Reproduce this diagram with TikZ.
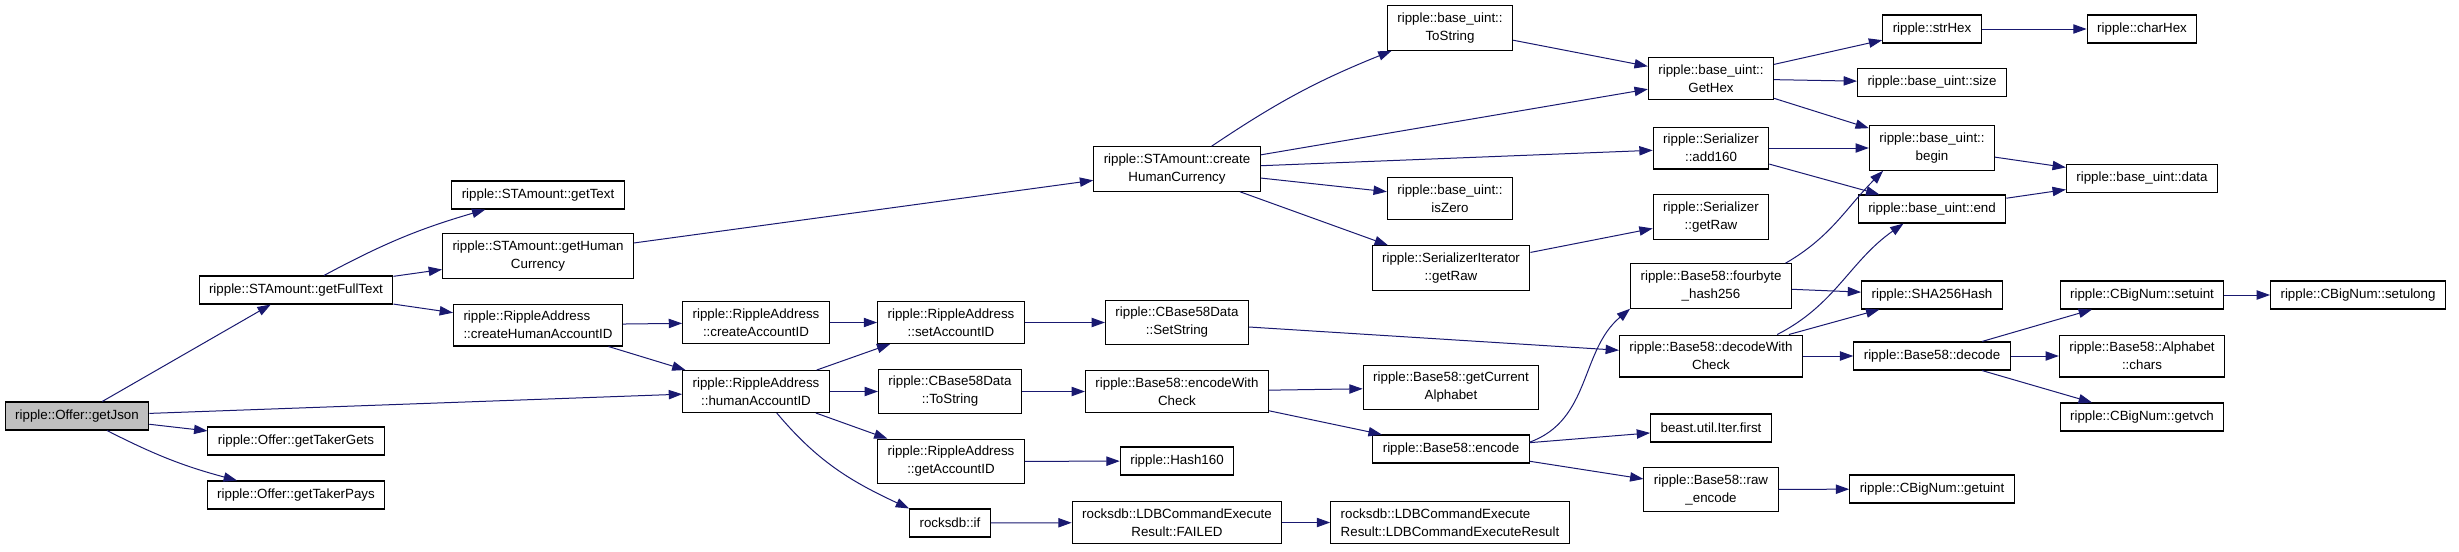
\documentclass[tikz,border=0pt]{standalone}
\usepackage{fontspec}
\setmainfont{Liberation Sans}
\usetikzlibrary{arrows.meta}
\definecolor{edgeblue}{HTML}{191970}
\definecolor{rootgray}{HTML}{BFBFBF}

\begin{document}
\begin{tikzpicture}[
  x=0.75pt, y=-0.75pt,
  box/.style={rectangle, draw=black, line width=0.8pt, fill=white,
              font=\fontsize{10}{13.5}\selectfont, align=center,
              inner xsep=7.5pt, inner ysep=5.3pt, minimum height=21pt},
  lbox/.style={box, align=left},
  rootbox/.style={box, fill=rootgray},
  arr/.style={-{Triangle[length=10pt, width=7pt]}, edgeblue, line width=0.75pt},
]
\useasboundingbox (0,0) rectangle (2459,551);

%% Nodes
\node[rootbox] (getJson)      at (77,416)    {ripple::Offer::getJson};
\node[box]     (getFullText)  at (296,290)   {ripple::STAmount::getFullText};
\node[box]     (getTakerGets) at (296,441)   {ripple::Offer::getTakerGets};
\node[box]     (getTakerPays) at (296,495)   {ripple::Offer::getTakerPays};

\node[box]  (getText)          at (538,195) {ripple::STAmount::getText};
\node[box]  (getHumanCurrency) at (538,256) {ripple::STAmount::getHuman\\Currency};
\node[lbox] (createHumanAcc)   at (538,325) {ripple::RippleAddress\\::createHumanAccountID};

\node[box] (createAccountID) at (756,322.5) {ripple::RippleAddress\\::createAccountID};
\node[box] (humanAccountID)  at (756,391.5) {ripple::RippleAddress\\::humanAccountID};

\node[box] (setAccountID) at (951,322.5) {ripple::RippleAddress\\::setAccountID};
\node[box] (cbToString)   at (950,391.5) {ripple::CBase58Data\\::ToString};
\node[box] (getAccountID) at (951,461.5) {ripple::RippleAddress\\::getAccountID};
\node[box] (rdbIf)        at (950,523)   {rocksdb::if};

\node[box] (createHumanCur)  at (1177,169)   {ripple::STAmount::create\\HumanCurrency};
\node[box] (setString)       at (1177,322.5) {ripple::CBase58Data\\::SetString};
\node[box] (encodeWithCheck) at (1177,391.5) {ripple::Base58::encodeWith\\Check};
\node[box] (hash160)         at (1177,461)   {ripple::Hash160};
\node[box] (failed)          at (1177,522.5) {rocksdb::LDBCommandExecute\\Result::FAILED};

\node[box]  (buToString) at (1450,28)    {ripple::base\_uint::\\ToString};
\node[box]  (isZero)     at (1450,198.5) {ripple::base\_uint::\\isZero};
\node[box]  (siGetRaw)   at (1451,268)   {ripple::SerializerIterator\\::getRaw};
\node[box]  (curAlpha)   at (1451,387.5) {ripple::Base58::getCurrent\\Alphabet};
\node[box]  (encode)     at (1451,449)   {ripple::Base58::encode};
\node[lbox] (ldbResult)  at (1450,522.5) {rocksdb::LDBCommandExecute\\Result::LDBCommandExecuteResult};

\node[box] (getHex)          at (1711,78.5) {ripple::base\_uint::\\GetHex};
\node[box] (add160)          at (1711,148)  {ripple::Serializer\\::add160};
\node[box] (sGetRaw)         at (1711,217)  {ripple::Serializer\\::getRaw};
\node[box] (fourbyte)        at (1711,286)  {ripple::Base58::fourbyte\\\_hash256};
\node[box] (decodeWithCheck) at (1711,356)  {ripple::Base58::decodeWith\\Check};
\node[box] (iterFirst)       at (1711,428)  {beast.util.Iter.first};
\node[box] (rawEncode)       at (1711,489.5){ripple::Base58::raw\\\_encode};

\node[box] (strHex)  at (1932,29)  {ripple::strHex};
\node[box] (buSize)  at (1932,82.5){ripple::base\_uint::size};
\node[box] (buBegin) at (1932,148) {ripple::base\_uint::\\begin};
\node[box] (buEnd)   at (1932,209) {ripple::base\_uint::end};
\node[box] (sha256)  at (1932,295) {ripple::SHA256Hash};
\node[box] (decode)  at (1932,356) {ripple::Base58::decode};
\node[box] (getuint) at (1932,489) {ripple::CBigNum::getuint};

\node[box] (charHex)  at (2142,29)    {ripple::charHex};
\node[box] (buData)   at (2142,178.5) {ripple::base\_uint::data};
\node[box] (setuint)  at (2142,295)   {ripple::CBigNum::setuint};
\node[box] (chars)    at (2142,356)   {ripple::Base58::Alphabet\\::chars};
\node[box] (getvch)   at (2142,417)   {ripple::CBigNum::getvch};
\node[box] (setulong) at (2358,295)   {ripple::CBigNum::setulong};

%% Arrows
\draw[arr] (getJson) -- (getFullText);
\draw[arr] (getJson) -- (humanAccountID);
\draw[arr] (getJson) -- (getTakerGets);
\draw[arr] (getJson) to[bend right=6] (getTakerPays);

\draw[arr] (getFullText) to[bend left=6] (getText);
\draw[arr] (getFullText) -- (getHumanCurrency);
\draw[arr] (getFullText) -- (createHumanAcc);

\draw[arr] (getHumanCurrency) -- (createHumanCur);
\draw[arr] (createHumanAcc) -- (createAccountID);
\draw[arr] (createHumanAcc) -- (humanAccountID);

\draw[arr] (createAccountID) -- (setAccountID);
\draw[arr] (humanAccountID) -- (setAccountID);
\draw[arr] (humanAccountID) -- (cbToString);
\draw[arr] (humanAccountID) -- (getAccountID);
\draw[arr] (humanAccountID.-46) to[out=-50, in=155] (rdbIf.north west);

\draw[arr] (setAccountID) -- (setString);
\draw[arr] (cbToString) -- (encodeWithCheck);
\draw[arr] (getAccountID) -- (hash160);
\draw[arr] (rdbIf) -- (failed);
\draw[arr] (failed) -- (ldbResult);

\draw[arr] (createHumanCur) to[bend left=6] (buToString);
\draw[arr] (createHumanCur) -- (getHex);
\draw[arr] (createHumanCur) -- (add160);
\draw[arr] (createHumanCur) -- (isZero);
\draw[arr] (createHumanCur) -- (siGetRaw);
\draw[arr] (setString) -- (decodeWithCheck);
\draw[arr] (encodeWithCheck) -- (curAlpha);
\draw[arr] (encodeWithCheck) -- (encode);

\draw[arr] (buToString) -- (getHex);
\draw[arr] (siGetRaw) -- (sGetRaw);
\draw[arr] (encode.5) to[out=20, in=220] (fourbyte.south west);
\draw[arr] (encode) -- (iterFirst);
\draw[arr] (encode) -- (rawEncode);

\draw[arr] (getHex) -- (strHex);
\draw[arr] (getHex) -- (buSize);
\draw[arr] (getHex) -- (buBegin);
\draw[arr] (add160) -- (buBegin);
\draw[arr] (add160) -- (buEnd);
\draw[arr] (fourbyte.17) to[out=30, in=225] (buBegin.205);
\draw[arr] (fourbyte) -- (sha256);
\draw[arr] (decodeWithCheck.18) to[out=27, in=215] (buEnd.207);
\draw[arr] (decodeWithCheck) -- (sha256);
\draw[arr] (decodeWithCheck) -- (decode);
\draw[arr] (rawEncode) -- (getuint);

\draw[arr] (strHex) -- (charHex);
\draw[arr] (buBegin) -- (buData);
\draw[arr] (buEnd) -- (buData);
\draw[arr] (decode) -- (setuint);
\draw[arr] (decode) -- (chars);
\draw[arr] (decode) -- (getvch);
\draw[arr] (setuint) -- (setulong);

\end{tikzpicture}
\end{document}
